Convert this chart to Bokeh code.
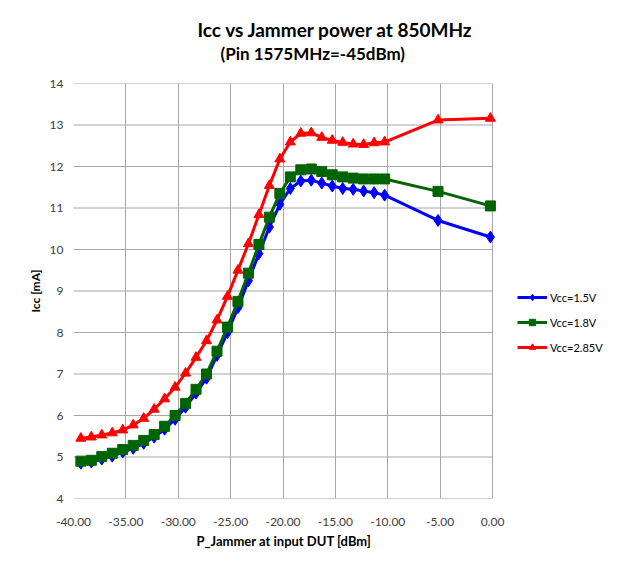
from bokeh.plotting import figure
from bokeh.models import FixedTicker, NumeralTickFormatter, Legend, LegendItem, Title
from bokeh.embed import file_html
from bokeh.resources import INLINE

x_dbm = [-39.3, -38.3, -37.3, -36.3, -35.3, -34.3, -33.3, -32.3, -31.3, -30.3,
         -29.3, -28.3, -27.3, -26.3, -25.3, -24.3, -23.3, -22.3, -21.3, -20.3,
         -19.3, -18.3, -17.3, -16.3, -15.3, -14.3, -13.3, -12.3, -11.3, -10.3,
         -5.2, -0.2]

icc_15 = [4.85, 4.88, 4.95, 5.02, 5.12, 5.21, 5.33, 5.48, 5.67, 5.91,
          6.20, 6.54, 6.90, 7.45, 8.00, 8.60, 9.25, 9.90, 10.54, 11.09,
          11.47, 11.65, 11.67, 11.60, 11.53, 11.47, 11.45, 11.41, 11.37, 11.31,
          10.70, 10.30]

icc_18 = [4.90, 4.92, 5.01, 5.09, 5.18, 5.28, 5.40, 5.54, 5.74, 6.00,
          6.29, 6.63, 7.00, 7.55, 8.13, 8.75, 9.43, 10.12, 10.78, 11.35,
          11.75, 11.92, 11.94, 11.88, 11.80, 11.75, 11.72, 11.70, 11.70, 11.70,
          11.40, 11.05]

icc_285 = [5.45, 5.48, 5.53, 5.58, 5.65, 5.77, 5.93, 6.15, 6.40, 6.68,
           7.02, 7.40, 7.80, 8.30, 8.87, 9.50, 10.14, 10.84, 11.54, 12.18,
           12.59, 12.80, 12.81, 12.70, 12.63, 12.58, 12.54, 12.53, 12.57, 12.59,
           13.12, 13.16]

x_ticks = [-40, -35, -30, -25, -20, -15, -10, -5, 0]
y_ticks = [4, 5, 6, 7, 8, 9, 10, 11, 12, 13, 14]
series_names = ["Vcc=1.5V", "Vcc=1.8V", "Vcc=2.85V"]
series_colors = ["#0000FF", "#006400", "#FF0000"]
series_markers = ["diamond", "square", "triangle"]

FONT = "Lato"
GRID = "#A6A6A6"
TXT = "#404040"

# layout: plot area 419 px wide for -40..0, frame extended to the right to host the legend
W, H = 605, 552
LEFT, TOP, BOTTOM = 73, 83, 54
PLOT_W = 419
px_per_unit = PLOT_W / (x_ticks[-1] - x_ticks[0])
x_end = x_ticks[-1] + (W - LEFT - PLOT_W) / px_per_unit

p = figure(width=W, height=H, x_range=(x_ticks[0], x_end),
           y_range=(y_ticks[0], y_ticks[-1]),
           output_backend="svg", toolbar_location=None,
           min_border_left=LEFT, min_border_right=0,
           min_border_top=TOP, min_border_bottom=BOTTOM,
           background_fill_color="white", border_fill_color="white")

p.title.text = "Icc vs Jammer power at 850MHz"
p.title.text_font = FONT
p.title.text_font_size = "19px"
p.title.text_font_style = "bold"
p.title.text_color = "black"
p.title.align = "left"
p.title.offset = 124
p.title.standoff = 0

# panels above stack outward from the plot: spacer first, then subtitle
spacer = Title(text=" ", text_font_size="1px", standoff=17)
p.add_layout(spacer, "above")
sub_title = Title(text="(Pin 1575MHz=-45dBm)", text_font=FONT,
                  text_font_size="17px", text_font_style="bold",
                  text_color="black", align="left", offset=147, standoff=0)
p.add_layout(sub_title, "above")

p.outline_line_color = None

p.xgrid.ticker = FixedTicker(ticks=x_ticks)
p.xgrid.grid_line_color = GRID
p.xgrid.grid_line_width = 1
p.ygrid.grid_line_color = None

# horizontal grid lines limited to the -40..0 span
n = len(y_ticks)
p.segment(x0=[x_ticks[0]] * n, y0=y_ticks, x1=[x_ticks[-1]] * n, y1=y_ticks,
          line_color=GRID, line_width=1)

p.xaxis.ticker = FixedTicker(ticks=x_ticks)
p.yaxis.ticker = FixedTicker(ticks=y_ticks)
p.xaxis.formatter = NumeralTickFormatter(format="0.00")

for ax in (p.xaxis, p.yaxis):
    ax.axis_line_color = None
    ax.major_tick_line_color = None
    ax.minor_tick_line_color = None
    ax.major_tick_out = 0
    ax.major_tick_in = 0
    ax.major_label_text_font = FONT
    ax.major_label_text_font_size = "12px"
    ax.major_label_text_color = TXT
    ax.axis_label_text_font = FONT
    ax.axis_label_text_font_style = "bold"
    ax.axis_label_text_font_size = "12px"
    ax.axis_label_text_color = "black"

p.xaxis.major_label_standoff = 19
p.yaxis.axis_label = "Icc [mA]"
p.yaxis.major_label_standoff = 10
p.yaxis.axis_label_standoff = 4

x_title = Title(text="P_Jammer at input DUT [dBm]", text_font=FONT,
                text_font_size="13px", text_font_style="bold",
                text_color="black", align="left", offset=123, standoff=5,
                vertical_align="bottom")
p.add_layout(x_title, "below")

items = []
for ys, name, color, marker in zip([icc_15, icc_18, icc_285], series_names,
                                   series_colors, series_markers):
    lr = p.line(x_dbm, ys, line_color=color, line_width=3)
    sr = p.scatter(x_dbm, ys, marker=marker, size=10 if marker != "diamond" else 12,
                   fill_color=color, line_color=color)
    items.append(LegendItem(label=name, renderers=[lr, sr]))

legend = Legend(items=items, location=(444, 143), orientation="vertical",
                label_text_font=FONT, label_text_font_size="11px",
                label_text_color="black", glyph_width=30, glyph_height=16,
                label_standoff=3, spacing=9, padding=2, margin=0,
                border_line_color=None, background_fill_alpha=0)
p.add_layout(legend)

open("out.html", "w").write(file_html(p, INLINE))
